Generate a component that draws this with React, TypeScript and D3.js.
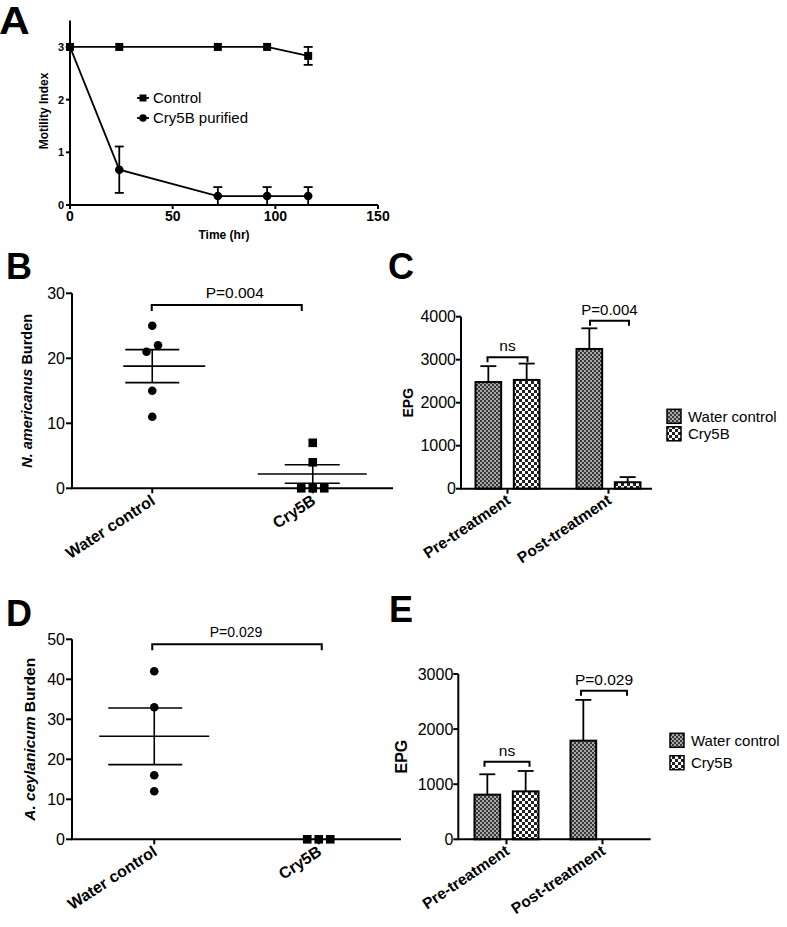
import React from 'react';
import * as d3 from 'd3';

const FONT = '"Liberation Sans", Arial, Helvetica, sans-serif';

// ---------- Panel A data ----------
const timeHr = [0, 24, 72, 96, 116];
const controlMotility = [3, 3, 3, 3, 2.83];
const controlErr = [0, 0, 0, 0, 0.17];
const cry5bMotility = [3, 0.67, 0.17, 0.17, 0.17];
const cry5bErr = [0, 0.44, 0.17, 0.17, 0.17];
const aXTicks = [0, 50, 100, 150];
const aYTicks = [0, 1, 2, 3];

// ---------- Panel B / D data ----------
const burdenGroups = ['Water control', 'Cry5B'];
const bWater = [25, 22, 21, 15, 11];
const bCry5B = [7, 4, 0, 0, 0];
const bYTicks = [0, 10, 20, 30];
const dWater = [42, 33, 16, 12];
const dCry5B = [0, 0, 0];
const dYTicks = [0, 10, 20, 30, 40, 50];

// ---------- Panel C / E data ----------
const epgTimes = ['Pre-treatment', 'Post-treatment'];
const epgSeries = ['Water control', 'Cry5B'];
const cWater = [2480, 3250];
const cWaterErr = [370, 480];
const cCry = [2530, 150];
const cCryErr = [380, 120];
const cYTicks = [0, 1000, 2000, 3000, 4000];
const eWater = [810, 1790];
const eWaterErr = [370, 740];
const eCry = [870, 0];
const eCryErr = [370, 0];
const eYTicks = [0, 1000, 2000, 3000];

const SW = 2;

function PanelLetter({ x, y, t, size }: any) {
  return (
    <text x={x} y={y} fontFamily={FONT} fontWeight={900} fontSize={size} fill="#000">
      {t}
    </text>
  );
}

function PanelA() {
  const x = d3.scaleLinear().domain([0, 150]).range([70, 378]);
  const y = d3.scaleLinear().domain([0, 3.5]).range([205, 20.6]);
  const line = d3
    .line<number>()
    .x((_, i) => x(timeHr[i]))
    .y((d) => y(d));
  const errBars = (vals: number[], errs: number[]) =>
    vals.map((v, i) =>
      errs[i] > 0 ? (
        <g key={i} stroke="#000" strokeWidth={1.8}>
          <line x1={x(timeHr[i])} x2={x(timeHr[i])} y1={y(v - errs[i])} y2={y(v + errs[i])} />
          <line x1={x(timeHr[i]) - 4.5} x2={x(timeHr[i]) + 4.5} y1={y(v + errs[i])} y2={y(v + errs[i])} />
          <line x1={x(timeHr[i]) - 4.5} x2={x(timeHr[i]) + 4.5} y1={y(v - errs[i])} y2={y(v - errs[i])} />
        </g>
      ) : null
    );
  return (
    <g>
      <g transform="translate(0,34) scale(1.12,1)">
        <PanelLetter x={-1} y={0} t="A" size={38} />
      </g>
      {/* axes */}
      <line x1={x(0)} x2={x(0)} y1={y(0)} y2={y(3.5)} stroke="#000" strokeWidth={SW} />
      <line x1={x(0) - 1} x2={x(150)} y1={y(0)} y2={y(0)} stroke="#000" strokeWidth={SW} />
      {aYTicks.map((t) => (
        <g key={t}>
          <line x1={x(0) - 4} x2={x(0)} y1={y(t)} y2={y(t)} stroke="#000" strokeWidth={SW} />
          <text x={x(0) - 6} y={y(t)} dy="0.36em" textAnchor="end" fontFamily={FONT} fontWeight="bold" fontSize={11}>
            {t}
          </text>
        </g>
      ))}
      {aXTicks.map((t) => (
        <g key={t}>
          <line x1={x(t)} x2={x(t)} y1={y(0)} y2={y(0) + 4} stroke="#000" strokeWidth={SW} />
          <text x={x(t)} y={y(0) + 16} textAnchor="middle" fontFamily={FONT} fontWeight="bold" fontSize={14}>
            {t}
          </text>
        </g>
      ))}
      <text x={224} y={239} textAnchor="middle" fontFamily={FONT} fontWeight="bold" fontSize={12}>
        Time (hr)
      </text>
      <text transform="translate(48,111) rotate(-90)" textAnchor="middle" fontFamily={FONT} fontWeight="bold" fontSize={12}>
        Motility Index
      </text>
      {/* lines */}
      <path d={line(controlMotility) || ''} fill="none" stroke="#000" strokeWidth={1.8} />
      <path d={line(cry5bMotility) || ''} fill="none" stroke="#000" strokeWidth={1.8} />
      {errBars(controlMotility, controlErr)}
      {errBars(cry5bMotility, cry5bErr)}
      {controlMotility.map((v, i) => (
        <rect key={i} x={x(timeHr[i]) - 4} y={y(v) - 4} width={8} height={8} fill="#000" />
      ))}
      {cry5bMotility.map((v, i) => (
        <circle key={i} cx={x(timeHr[i])} cy={y(v)} r={4.3} fill="#000" />
      ))}
      {/* legend */}
      <line x1={137} x2={149} y1={98} y2={98} stroke="#000" strokeWidth={1.8} />
      <rect x={139.5} y={94.5} width={7} height={7} fill="#000" />
      <text x={153} y={98} dy="0.35em" fontFamily={FONT} fontSize={15}>
        Control
      </text>
      <line x1={137} x2={149} y1={118} y2={118} stroke="#000" strokeWidth={1.8} />
      <circle cx={143} cy={118} r={3.8} fill="#000" />
      <text x={153} y={118} dy="0.35em" fontFamily={FONT} fontSize={15}>
        Cry5B purified
      </text>
    </g>
  );
}

// spread near-equal values horizontally (scatter-dot jitter)
function jitter(vals: number[], y: (v: number) => number, thresh: number, spacing: number) {
  const order = vals.map((v, i) => i).sort((a, b) => vals[a] - vals[b]);
  const offs = new Array(vals.length).fill(0);
  let i = 0;
  while (i < order.length) {
    let j = i;
    while (j + 1 < order.length && Math.abs(y(vals[order[j + 1]]) - y(vals[order[i]])) < thresh) j++;
    const n = j - i + 1;
    for (let k = 0; k < n; k++) offs[order[i + k]] = (k - (n - 1) / 2) * spacing;
    i = j + 1;
  }
  return offs;
}

function meanSem(vals: number[]) {
  const m = d3.mean(vals) as number;
  const sd = d3.deviation(vals) as number;
  return { m, sem: sd / Math.sqrt(vals.length) };
}

function DotPanel(props: any) {
  const { letter, letterY, axisX0, axisX1, yBottom, yTop, yMax, yTicks, water, cry, widths, bracket, label, labelSize, labelX } = props;
  const x = d3.scalePoint().domain(burdenGroups).range([axisX0, axisX1]).padding(0.5);
  const y = d3.scaleLinear().domain([0, yMax]).range([yBottom, yTop]);
  const groups = [water, cry];
  const bx0 = (x(burdenGroups[0]) as number) + bracket.dx0;
  const bx1 = (x(burdenGroups[1]) as number) + bracket.dx1;
  const by = y(bracket.v);
  return (
    <g>
      <PanelLetter x={6} y={letterY} t={letter} size={36} />
      <line x1={axisX0} x2={axisX0} y1={y(0)} y2={y(yMax)} stroke="#000" strokeWidth={SW} />
      <line x1={axisX0 - 1} x2={axisX1} y1={y(0)} y2={y(0)} stroke="#000" strokeWidth={SW} />
      {yTicks.map((t: number) => (
        <g key={t}>
          <line x1={axisX0 - 6} x2={axisX0} y1={y(t)} y2={y(t)} stroke="#000" strokeWidth={SW} />
          <text x={axisX0 - 7} y={y(t)} dy="0.36em" textAnchor="end" fontFamily={FONT} fontSize={16}>
            {t}
          </text>
        </g>
      ))}
      {burdenGroups.map((g) => (
        <g key={g}>
          <line x1={x(g)} x2={x(g)} y1={y(0)} y2={y(0) + 5} stroke="#000" strokeWidth={SW} />
          <text
            transform={`translate(${(x(g) as number) + 4},${y(0) + 15}) rotate(-33)`}
            textAnchor="end"
            fontFamily={FONT}
            fontWeight="bold"
            fontSize={16}
          >
            {g}
          </text>
        </g>
      ))}
      <text transform={`translate(${labelX},${(yBottom + yTop) / 2}) rotate(-90)`} textAnchor="middle" fontFamily={FONT} fontWeight="bold" fontSize={labelSize}>
        <tspan fontStyle="italic">{label[0]}</tspan>
        <tspan>{label[1]}</tspan>
      </text>
      {groups.map((vals: number[], gi: number) => {
        const cx = x(burdenGroups[gi]) as number;
        const { m, sem } = meanSem(vals);
        const w = widths[gi];
        const offs = jitter(vals, y, 9, 11.5);
        return (
          <g key={gi}>
            <g stroke="#000" strokeWidth={1.6}>
              <line x1={cx + w.mean[0]} x2={cx + w.mean[1]} y1={y(m)} y2={y(m)} />
              <line x1={cx + w.sem[0]} x2={cx + w.sem[1]} y1={y(m + sem)} y2={y(m + sem)} />
              <line x1={cx + w.sem[0]} x2={cx + w.sem[1]} y1={y(m - sem)} y2={y(m - sem)} />
              <line x1={cx} x2={cx} y1={y(m + sem)} y2={y(m - sem)} />
            </g>
            {vals.map((v, i) =>
              gi === 0 ? (
                <circle key={i} cx={cx + offs[i]} cy={y(v)} r={4.3} fill="#000" />
              ) : (
                <rect key={i} x={cx + offs[i] - 4.3} y={y(v) - 4.3} width={8.6} height={8.6} fill="#000" />
              )
            )}
          </g>
        );
      })}
      <path d={`M${bx0},${by + 6}V${by}H${bx1}V${by + 6}`} fill="none" stroke="#000" strokeWidth={SW} />
      <text x={(bx0 + bx1) / 2 + bracket.tdx} y={by - 7} textAnchor="middle" fontFamily={FONT} fontSize={bracket.size}>
        {bracket.text}
      </text>
    </g>
  );
}

function BarPanel(props: any) {
  const { letter, letterX, letterY, axisX0, axisX1, catRange, yBottom, yTop, yMax, yTicks, water, waterErr, cry, cryErr, brackets, legend, labelX, labelSize } = props;
  const x0 = d3.scalePoint().domain(epgTimes).range(catRange).padding(0.5);
  const inner = d3.scaleBand().domain(epgSeries).range([-32, 32]).paddingInner(0.33);
  const y = d3.scaleLinear().domain([0, yMax]).range([yBottom, yTop]);
  const series = [
    { vals: water, errs: waterErr, fill: 'url(#pWater)' },
    { vals: cry, errs: cryErr, fill: 'url(#pCry)' },
  ];
  return (
    <g>
      <PanelLetter x={letterX} y={letterY} t={letter} size={36} />
      {series.map((s, si) =>
        s.vals.map((v: number, ci: number) => {
          if (v <= 0) return null;
          const bx = (x0(epgTimes[ci]) as number) + (inner(epgSeries[si]) as number);
          const bw = inner.bandwidth();
          const cx = bx + bw / 2;
          return (
            <g key={`${si}-${ci}`}>
              <line x1={cx} x2={cx} y1={y(v)} y2={y(v + s.errs[ci])} stroke="#000" strokeWidth={1.8} />
              <line x1={cx - 8} x2={cx + 8} y1={y(v + s.errs[ci])} y2={y(v + s.errs[ci])} stroke="#000" strokeWidth={1.8} />
              <rect x={bx} y={y(v)} width={bw} height={y(0) - y(v)} fill={s.fill} stroke="#000" strokeWidth={2} />
            </g>
          );
        })
      )}
      <line x1={axisX0} x2={axisX0} y1={y(0)} y2={y(yMax)} stroke="#000" strokeWidth={SW} />
      <line x1={axisX0 - 1} x2={axisX1} y1={y(0)} y2={y(0)} stroke="#000" strokeWidth={SW} />
      {yTicks.map((t: number) => (
        <g key={t}>
          <line x1={axisX0 - 5} x2={axisX0} y1={y(t)} y2={y(t)} stroke="#000" strokeWidth={SW} />
          <text x={axisX0 - 5} y={y(t)} dy="0.36em" textAnchor="end" fontFamily={FONT} fontSize={16}>
            {t}
          </text>
        </g>
      ))}
      {epgTimes.map((g) => (
        <g key={g}>
          <line x1={x0(g)} x2={x0(g)} y1={y(0)} y2={y(0) + 5} stroke="#000" strokeWidth={SW} />
          <text
            transform={`translate(${(x0(g) as number) + 4},${y(0) + 14}) rotate(-34)`}
            textAnchor="end"
            fontFamily={FONT}
            fontWeight="bold"
            fontSize={15.5}
          >
            {g}
          </text>
        </g>
      ))}
      <text transform={`translate(${labelX},${(yBottom + yTop) / 2}) rotate(-90)`} textAnchor="middle" fontFamily={FONT} fontWeight="bold" fontSize={labelSize}>
        EPG
      </text>
      {brackets.map((b: any, i: number) => {
        const cx = (x0(epgTimes[b.cat]) as number) + b.dx;
        const by = y(b.v);
        return (
          <g key={i}>
            <path d={`M${cx - b.half},${by + 5}V${by}H${cx + b.half}V${by + 5}`} fill="none" stroke="#000" strokeWidth={SW} />
            <text x={cx} y={by - 6} textAnchor="middle" fontFamily={FONT} fontSize={b.size}>
              {b.text}
            </text>
          </g>
        );
      })}
      {epgSeries.map((s, i) => (
        <g key={s}>
          <rect x={legend.x} y={legend.y + i * legend.gap} width={14} height={14} fill={i === 0 ? 'url(#pWater)' : 'url(#pCry)'} stroke="#000" strokeWidth={1.5} />
          <text x={legend.x + 21} y={legend.y + i * legend.gap + 7} dy="0.36em" fontFamily={FONT} fontSize={15}>
            {s}
          </text>
        </g>
      ))}
    </g>
  );
}

export default function App() {
  return (
    <svg width={787} height={927} style={{ position: 'absolute', left: 0, top: 0, background: '#fff' }}>
      <defs>
        <pattern id="pWater" width={4} height={4} patternUnits="userSpaceOnUse">
          <rect width={4} height={4} fill="#a8a8a8" />
          <rect x={0} y={0} width={2} height={2} fill="#383838" />
          <rect x={2} y={2} width={2} height={2} fill="#383838" />
        </pattern>
        <pattern id="pCry" width={6} height={6} patternUnits="userSpaceOnUse">
          <rect width={6} height={6} fill="#ffffff" />
          <rect x={0} y={0} width={3} height={3} fill="#222" />
          <rect x={3} y={3} width={3} height={3} fill="#222" />
        </pattern>
      </defs>
      <rect width={787} height={927} fill="#fff" />
      <PanelA />
      <DotPanel
        letter="B"
        letterY={279}
        axisX0={72}
        axisX1={393}
        yBottom={488.3}
        yTop={293.3}
        yMax={30}
        yTicks={bYTicks}
        water={bWater}
        cry={bCry5B}
        widths={[
          { mean: [-29, 53], sem: [-27, 27] },
          { mean: [-55, 54], sem: [-28, 27] },
        ]}
        bracket={{ v: 28.2, dx0: -0.5, dx1: -11, text: 'P=0.004', size: 15.5, tdx: 8 }}
        label={['N. americanus', ' Burden']}
        labelSize={14.5}
        labelX={32}
      />
      <DotPanel
        letter="D"
        letterY={626}
        axisX0={72}
        axisX1={401}
        yBottom={839.3}
        yTop={639.3}
        yMax={50}
        yTicks={dYTicks}
        water={dWater}
        cry={dCry5B}
        widths={[
          { mean: [-55, 55], sem: [-46, 28] },
          { mean: [0, 0], sem: [0, 0] },
        ]}
        bracket={{ v: 48.75, dx0: -2, dx1: 3, text: 'P=0.029', size: 14, tdx: -1 }}
        label={['A. ceylanicum', ' Burden']}
        labelSize={15.5}
        labelX={35}
      />
      <BarPanel
        letter="C"
        letterX={388}
        letterY={279}
        axisX0={461}
        axisX1={652}
        catRange={[457, 659]}
        yBottom={488.7}
        yTop={316.7}
        yMax={4000}
        yTicks={cYTicks}
        water={cWater}
        waterErr={cWaterErr}
        cry={cCry}
        cryErr={cCryErr}
        brackets={[
          { cat: 0, dx: 0, half: 20, v: 3056, text: 'ns', size: 15.5 },
          { cat: 1, dx: 1, half: 19.5, v: 3907, text: 'P=0.004', size: 15 },
        ]}
        legend={{ x: 667, y: 409.3, gap: 17.5 }}
        labelX={413}
        labelSize={14}
      />
      <BarPanel
        letter="E"
        letterX={389}
        letterY={622}
        axisX0={458.3}
        axisX1={650.7}
        catRange={[458.5, 650.5]}
        yBottom={839.3}
        yTop={674}
        yMax={3000}
        yTicks={eYTicks}
        water={eWater}
        waterErr={eWaterErr}
        cry={eCry}
        cryErr={eCryErr}
        brackets={[
          { cat: 0, dx: 0.5, half: 22.5, v: 1408, text: 'ns', size: 15.5 },
          { cat: 1, dx: 1.5, half: 23, v: 2697, text: 'P=0.029', size: 15.5 },
        ]}
        legend={{ x: 670, y: 733.3, gap: 22.4 }}
        labelX={407}
        labelSize={16}
      />
    </svg>
  );
}
